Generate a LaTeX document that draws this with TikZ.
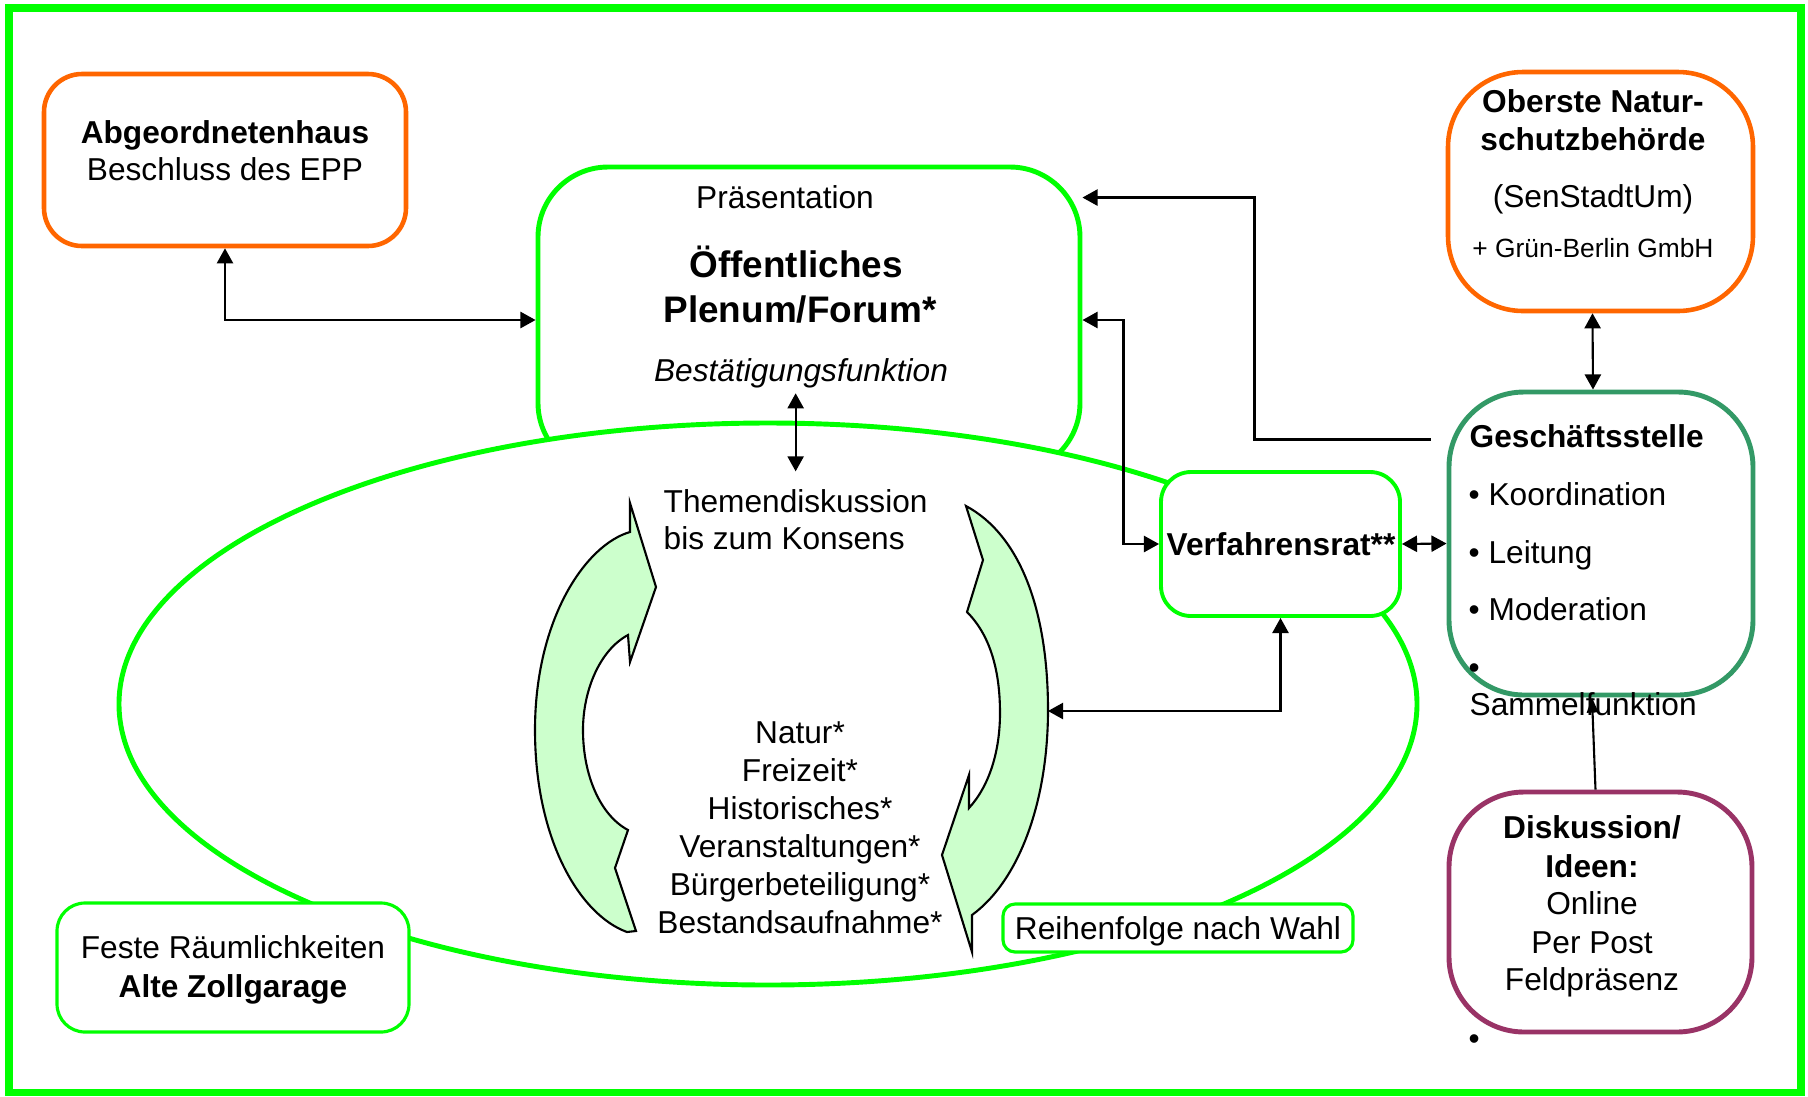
\documentclass[tikz,border=0pt]{standalone}
\usepackage{fontspec}
\setmainfont{Liberation Sans}
\usetikzlibrary{arrows.meta,calc,fit}
\definecolor{GreenLine}{RGB}{0,255,0}
\definecolor{OrangeLine}{RGB}{255,102,0}
\definecolor{SeaGreen}{RGB}{51,153,102}
\definecolor{Plum}{RGB}{153,51,102}
\definecolor{PaleGreen}{RGB}{204,255,204}
\tikzset{
    txt/.style={inner sep=0pt, anchor=base, font=\fontsize{9}{10.8}\selectfont},
    box/.style={draw, inner sep=0pt, rounded corners=#1},
    box/.default=7mm,
    link/.style={line width=0.6pt, <->},
}

\begin{document}
\begin{tikzpicture}[x=0.01cm, y=-0.01cm, >={Triangle[length=4.3pt,width=4.6pt]}]
    \useasboundingbox (0,0) rectangle (1808,1096);
    %%Frame
    \draw[GreenLine, line width=2pt] (9,8) rectangle (1801,1092);

    %%Plenum and circle of topics
    \node[box=7mm, GreenLine, line width=1.4pt, fit={(538,167) (1080,473)}] (plenum) {};
    \draw[GreenLine, line width=1.4pt, fill=white] (768,704) ellipse [x radius=649, y radius=281];

    %%Boxes
    \node[box=3.8mm, OrangeLine, line width=1.3pt, fit={(44,74) (406,246)}] (abg) {};
    \node[box=7.5mm, OrangeLine, line width=1.3pt, fit={(1448,72) (1753,311)}] (ob) {};
    \node[box=7.5mm, SeaGreen, line width=1.4pt, fit={(1449,392) (1753,695)}] (gs) {};
    \node[box=7.5mm, Plum, line width=1.4pt, fit={(1449,792) (1752,1032)}] (disk) {};
    \node[box=3mm, GreenLine, line width=1.1pt, fill=white, fit={(1161,472) (1400,616)}] (vr) {};
    \node[box=2.8mm, GreenLine, line width=0.9pt, fill=white, fit={(57,903) (409,1032)}] (feste) {};
    \node[box=1.2mm, GreenLine, line width=0.9pt, fill=white, fit={(1003,904) (1353,952)}] (wahl) {};

    %%Curved arrows
    \draw[fill=PaleGreen, line width=0.6pt] (630,503) -- (656,587) -- (630,662) -- (628,635)
        .. controls (600,650) and (583,690) .. (583,730)
        .. controls (583,775) and (600,815) .. (628,830)
        -- (615,868) -- (636,931) -- (627,932)
        .. controls (580,915) and (535,840) .. (535,730)
        .. controls (535,620) and (585,545) .. (630,532) -- cycle;
    \draw[fill=PaleGreen, line width=0.6pt] (966,506)
        .. controls (1020,535) and (1048,610) .. (1048,710)
        .. controls (1048,800) and (1020,880) .. (972,915)
        -- (972,952) -- (942,855) -- (969,775) -- (969,808)
        .. controls (990,785) and (1000,750) .. (1000,713)
        .. controls (1000,670) and (990,635) .. (967,612)
        -- (983,560) -- cycle;
    \coordinate (rarrow) at (1048,711);

    %%Texts
    \node[txt] (abgA) at (225,143) {\bfseries Abgeordnetenhaus};
    \node[txt] (abgB) at (225,180) {Beschluss des EPP};
    \node[txt] (plenA) at (785,208) {Präsentation};
    \node[txt, font=\fontsize{10.5}{12.6}\selectfont\bfseries] (plenB) at (796,277) {Öffentliches};
    \node[txt, font=\fontsize{10.5}{12.6}\selectfont\bfseries] (plenC) at (800,322) {Plenum/Forum*};
    \node[txt] (plenD) at (801,381) {\itshape Bestätigungsfunktion};
    \node[txt, anchor=base west] (themA) at (663,512) {Themendiskussion};
    \node[txt, anchor=base west] (themB) at (663,549) {bis zum Konsens};
    \foreach \topic [count=\i] in {Natur*, Freizeit*, Historisches*, Veranstaltungen*,
        Bürgerbeteiligung*, Bestandsaufnahme*}
        \node[txt] (topic\i) at (800,{705+38*\i}) {\topic};
    \node[txt] (vrA) at (1281,555) {\bfseries Verfahrensrat**};
    \node[txt] (wahlA) at (1178,939) {Reihenfolge nach Wahl};
    \node[txt] (obA) at (1593,112) {\bfseries Oberste Natur-};
    \node[txt] (obB) at (1593,150) {\bfseries schutzbehörde};
    \node[txt] (obC) at (1593,207) {(SenStadtUm)};
    \node[txt, font=\fontsize{7.5}{9}\selectfont] (obD) at (1593,257) {+ Grün-Berlin GmbH};
    \node[txt, anchor=base west] (gsA) at (1469,447) {\bfseries Geschäftsstelle};
    \node[txt, anchor=base west] (gsB) at (1468,505) {• Koordination};
    \node[txt, anchor=base west] (gsC) at (1468,563) {• Leitung};
    \node[txt, anchor=base west] (gsD) at (1468,620) {• Moderation};
    \node[txt, anchor=base west] (gsE) at (1468,678) {•};
    \node[txt, anchor=base west] (gsF) at (1469,715) {Sammelfunktion};
    \node[txt] (diskA) at (1592,838) {\bfseries Diskussion/};
    \node[txt] (diskB) at (1592,877) {\bfseries Ideen:};
    \node[txt] (diskC) at (1592,914) {Online};
    \node[txt] (diskD) at (1592,953) {Per Post};
    \node[txt] (diskE) at (1592,990) {Feldpräsenz};
    \node[txt, anchor=base west] (diskF) at (1468,1049) {•};
    \node[txt] (festeA) at (233,958) {Feste Räumlichkeiten};
    \node[txt] (festeB) at (233,997) {\bfseries Alte Zollgarage};

    %%Connectors
    \draw[link] (abg.south) |- (plenum.west);
    \draw[link] ($(plenD.south -| themA.north)+(0,5)$) -- ($(themA.north)+(0,-17)$);
    \draw[line width=0.6pt, ->] ($(gs.north west)+(-16,50)$) -- ++(-176,0) |- ($(plenum.north east)+(0,33)$);
    \draw[link] (plenum.east) -- ++(41,0) |- (vr.west);
    \draw[link] (vr.east) -- (gs.west);
    \draw[link] (vr.south) |- (rarrow);
    \draw[link] ([xshift=-0.08cm]ob.south) -- ([xshift=-0.08cm]gs.north);
    \draw[line width=0.6pt, -{Triangle[length=4.3pt,width=3.2pt]}] ([xshift=-0.05cm]disk.north) -- ([xshift=-0.09cm]gs.south);
\end{tikzpicture}
\end{document}
